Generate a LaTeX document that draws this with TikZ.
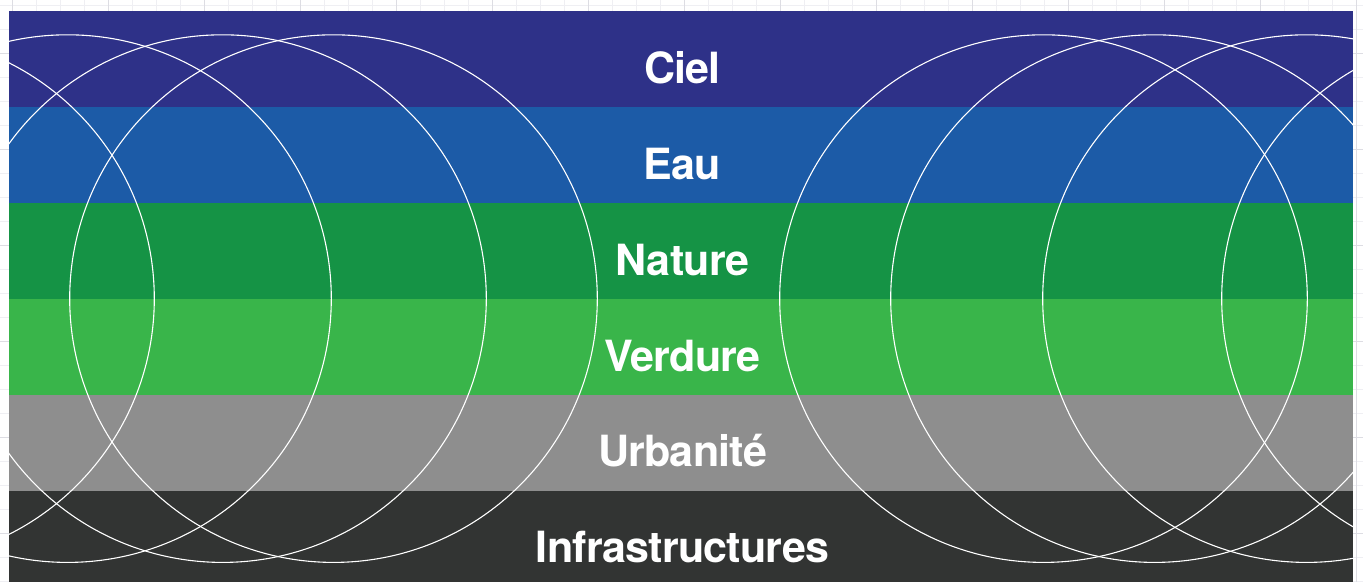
\documentclass[tikz,border=0pt]{standalone}
\usepackage{fontspec}
\newfontfamily\labelfont{TeX Gyre Heros}[LetterSpace=-1.8]
\definecolor{cCiel}{HTML}{2E3188}
\definecolor{cEau}{HTML}{1C5BA7}
\definecolor{cNature}{HTML}{159345}
\definecolor{cVerdure}{HTML}{39B54A}
\definecolor{cUrb}{HTML}{8E8E8E}
\definecolor{cInfra}{HTML}{323433}
\definecolor{gridminor}{HTML}{EFEFF3}
\definecolor{gridmajor}{HTML}{DDDDE3}
\tikzset{
  band/.style={fill=#1, draw=none},
  ring/.style={draw=white, line width=1.1pt},
  bandlabel/.style={text=white, anchor=base, inner sep=0pt,
    font=\labelfont\bfseries\fontsize{43}{50}\selectfont},
}
\begin{document}
\begin{tikzpicture}[x=1pt,y=-1pt]
\useasboundingbox (0,0) rectangle (1363,582);
\fill[white] (0,0) rectangle (1363,582);
% background grid
\foreach \gx in {0,...,56} {
  \draw[gridminor, line width=0.8pt] ({12.5+24*\gx},0) -- ({12.5+24*\gx},582);
}
\foreach \gy in {0,...,24} {
  \draw[gridminor, line width=0.8pt] (0,{5+24*\gy}) -- (1363,{5+24*\gy});
}
\foreach \gx in {0,...,14} {
  \draw[gridmajor, line width=1pt] ({12.5+96*\gx},0) -- ({12.5+96*\gx},582);
}
\foreach \gy in {0,...,6} {
  \draw[gridmajor, line width=1pt] (0,{53+96*\gy}) -- (1363,{53+96*\gy});
}
% bands
\fill[band=cCiel]    (9,11)  rectangle (1353,107);
\fill[band=cEau]     (9,107) rectangle (1353,203);
\fill[band=cNature]  (9,203) rectangle (1353,299);
\fill[band=cVerdure] (9,299) rectangle (1353,395);
\fill[band=cUrb]     (9,395) rectangle (1353,491);
\fill[band=cInfra]   (9,491) rectangle (1353,582);
% circles
\begin{scope}
  \clip (9,11) rectangle (1353,582);
  \foreach \cx in {-109.5,67.5,222.5,333.5,1043.5,1154.5,1306.5,1485.5} {
    \draw[ring] (\cx,298.6) circle[radius=263.8];
  }
\end{scope}
% labels
\node[bandlabel] (ciel)   at (682.5,83.3)  {Ciel};
\node[bandlabel] (eau)    at (682.5,179.2) {Eau};
\node[bandlabel] (nature) at (682.5,275.1) {Nature};
\node[bandlabel] (verdure) at (682.5,371.0) {Verdure};
\node[bandlabel] (urb)    at (682.5,466.9) {Urbanité};
\node[bandlabel] (infra)  at (682.5,562.7) {Infrastructures};
\end{tikzpicture}
\end{document}
